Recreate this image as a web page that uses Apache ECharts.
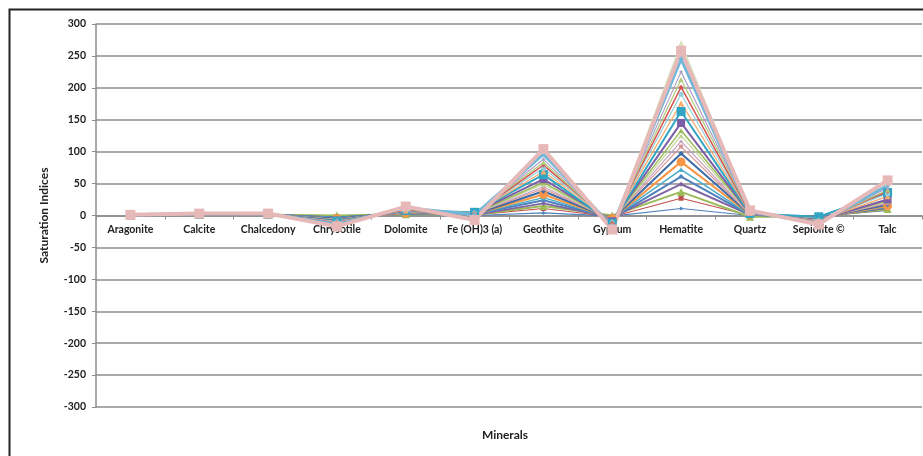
<!DOCTYPE html>
<html>
<head>
<meta charset="utf-8">
<script src="https://cdn.jsdelivr.net/npm/echarts@6/dist/echarts.min.js"></script>
<style>
  html, body { margin: 0; padding: 0; background: #fff; }
  #chart { width: 923px; height: 456px; }
</style>
</head>
<body>
<div id="chart"></div>
<script>
// Mineral names along the x axis
const minerals = ['Aragonite', 'Calcite', 'Chalcedony', 'Chrysotile', 'Dolomite', 'Fe (OH)3 (a)',
                  'Geothite', 'Gypsum', 'Hematite', 'Quartz', 'Sepiolite ©', 'Talc'];

// Saturation index of each mineral, one entry per sample (22 samples)
const aragonite  = [0, 0, 0, 0, 0, 0, 0, 0, 0, 0, 1, 1, 1, 1, 1, 1, 1, 1, 1, 1, 1, 1];
const calcite    = [1, 1, 1, 1, 1, 1, 2, 2, 2, 2, 2, 2, 2, 2, 2, 3, 3, 3, 3, 3, 3, 3];
const chalcedony = [0, 0, 1, 1, 1, 1, 1, 1, 1, 2, 2, 2, 2, 2, 2, 2, 2, 2, 3, 3, 3, 3];
const chrysotile = [-1, -2, 0, -3, -3, -4, -5, -5, -6, -6, -7, -7, -8, -9, -9, -10, -11, -12, -12, -14, -17, -15];
const dolomite   = [1, 2, 2, 3, 3, 4, 4, 5, 5, 6, 6, 7, 7, 8, 8, 9, 9, 10, 11, 12, 14, 13];
const feOH3      = [0, 1, 1, 1, 2, 2, 2, 2, 3, 3, 3, 3, 4, 5, 4, 4, 3, 3, 2, 1, -7, 0];
const geothite   = [4, 11, 15, 19, 24, 28, 33, 38, 42, 45, 49, 52, 57, 64, 69, 74, 79, 83, 88, 96, 104, 100];
const gypsum     = [-1, -2, 0, -3, -4, -4, -5, -6, -6, -7, -8, -8, -9, -12, -10, -11, -12, -14, -15, -17, -22, -19];
const hematite   = [11, 27, 37, 49, 61, 72, 84, 97, 108, 116, 125, 133, 145, 163, 176, 190, 201, 213, 225, 245, 258, 270];
const quartz     = [0, 0, -2, 1, 1, 1, 2, 2, 2, 2, 3, 3, 3, 3, 4, 4, 4, 5, 5, 6, 8, 6];
const sepiolite  = [-1, -1, -2, -2, -3, -3, -4, -4, -5, -5, -6, -6, -7, -2, -8, -8, -9, -10, -11, -12, -14, -13];
const talc       = [8, 9, 10, 12, 13, 14, 15, 17, 19, 20, 22, 23, 25, 36, 30, 34, 38, 40, 43, 47, 55, 50];

// Y axis range
const yMin = -300, yMax = 300, yStep = 50;

const columns = [aragonite, calcite, chalcedony, chrysotile, dolomite, feOH3,
                 geothite, gypsum, hematite, quartz, sepiolite, talc];

// Per-sample line styling (colour, marker, marker size, line width)
const colors  = ['#4F81BD', '#C0504D', '#9BBB59', '#8064A2', '#4F81BD', '#4BACC6', '#F79646', '#3A6BA5',
                 '#D99694', '#C9A3C0', '#C3D69B', '#9BBB59', '#7B5EA7', '#31A5C4', '#F9AB6B', '#93CDDD',
                 '#D9534F', '#AFC97A', '#B2A1C7', '#6FB7DB', '#E6B9B8', '#D7E4BD'];
const symbols = ['diamond', 'rect', 'triangle', 'diamond', 'diamond', 'triangle', 'circle', 'diamond',
                 'rect', 'diamond', 'triangle', 'triangle', 'rect', 'rect', 'triangle', 'circle',
                 'diamond', 'triangle', 'diamond', 'diamond', 'rect', 'triangle'];
const sizes   = [4, 5, 8, 5, 5, 5, 9, 5, 4, 4, 5, 5, 8, 9, 6, 5, 5, 5, 4, 5, 10, 6];
const widths  = [1.2, 1.2, 2, 2, 2, 1.5, 2, 2, 1.2, 1.2, 1.2, 1.5, 2, 2, 1.2, 1.2, 1.5, 1.2, 1.2, 3, 4, 1.5];

// Draw order: the pale green sample sits under the pink one
const order = [0, 1, 2, 3, 4, 5, 6, 7, 8, 9, 10, 11, 12, 13, 14, 15, 16, 17, 18, 21, 19, 20];

const series = order.map(function (k) {
  return {
    type: 'line',
    name: 'Sample ' + (k + 1),
    data: columns.map(function (col) { return col[k]; }),
    symbol: symbols[k],
    symbolSize: sizes[k],
    showSymbol: true,
    lineStyle: { color: colors[k], width: widths[k] },
    itemStyle: { color: colors[k] },
    emphasis: { disabled: true }
  };
});

const labelFont = { fontFamily: 'Lato', fontWeight: 'bold', fontSize: 10.5, color: '#222' };

// Plot box geometry
const gridTop = 24, gridBottom = 49, chartH = 456;
const plotH = chartH - gridTop - gridBottom;
// Lift the category axis from the bottom edge up to the zero line
const zeroLift = -plotH * (0 - yMin) / (yMax - yMin);

const chart = echarts.init(document.getElementById('chart'), null, { renderer: 'canvas' });
chart.setOption({
  animation: false,
  backgroundColor: '#fff',
  grid: { left: 96, right: 1, top: gridTop, bottom: gridBottom, containLabel: false },
  xAxis: {
    type: 'category',
    data: minerals,
    boundaryGap: true,
    position: 'bottom',
    offset: zeroLift,
    axisLine: { onZero: false, lineStyle: { color: '#8c8c8c', width: 1.5 } },
    axisTick: { show: true, length: 4, alignWithLabel: false, lineStyle: { color: '#8c8c8c' } },
    axisLabel: Object.assign({ interval: 0, margin: 9 }, labelFont),
    splitLine: { show: false }
  },
  yAxis: {
    type: 'value',
    min: yMin, max: yMax, interval: yStep,
    name: 'Saturation Indices',
    nameLocation: 'middle',
    nameGap: 46,
    nameTextStyle: { fontFamily: 'Lato', fontWeight: 'bold', fontSize: 12, color: '#222' },
    axisLine: { show: true, lineStyle: { color: '#8c8c8c', width: 1.5 } },
    axisTick: { show: true, length: 4, lineStyle: { color: '#8c8c8c' } },
    axisLabel: Object.assign({ margin: 10 }, labelFont),
    splitLine: { show: true, lineStyle: { color: '#8c8c8c', width: 1.5 } }
  },
  graphic: [
    {
      type: 'rect',
      shape: { x: 9.5, y: 9.5, width: 930, height: 460 },
      style: { fill: 'none', stroke: '#222', lineWidth: 2 },
      silent: true
    },
    {
      type: 'text',
      x: 505, y: 435,
      style: { text: 'Minerals', fontFamily: 'Lato', fontWeight: 'bold', fontSize: 12, fill: '#222',
               textAlign: 'center', textVerticalAlign: 'middle' },
      silent: true
    }
  ],
  series: series
});
</script>
</body>
</html>
